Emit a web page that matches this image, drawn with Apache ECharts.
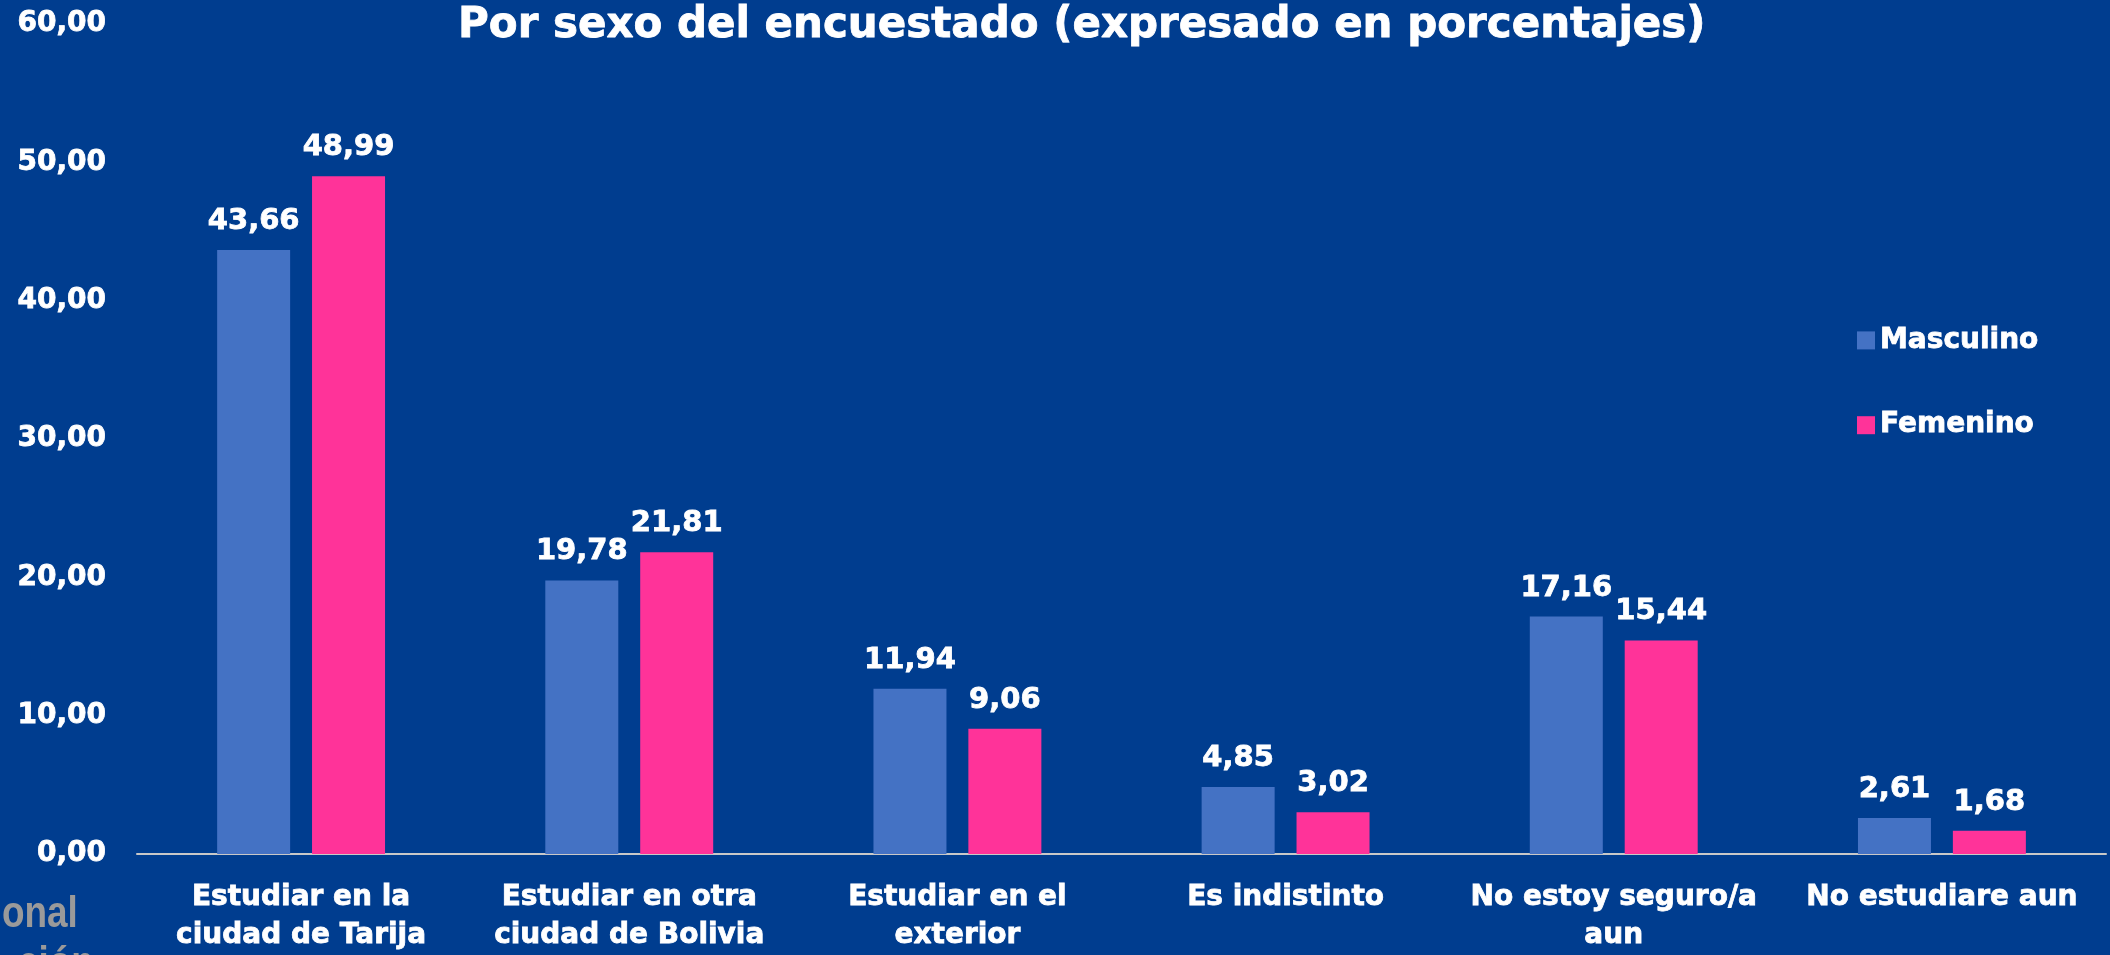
<!DOCTYPE html>
<html>
<head>
<meta charset="utf-8">
<script src="https://cdn.jsdelivr.net/npm/echarts@6/dist/echarts.min.js"></script>
<style>
  html, body { margin: 0; padding: 0; background: #003D8F; }
  #chart { width: 2110px; height: 955px; }
</style>
</head>
<body>
<div id="chart"></div>
<script>
const categories = [
  "Estudiar en la\nciudad de Tarija",
  "Estudiar en otra\nciudad de Bolivia",
  "Estudiar en el\nexterior",
  "Es indistinto",
  "No estoy seguro/a\naun",
  "No estudiare aun"
];
const masculino = [43.66, 19.78, 11.94, 4.85, 17.16, 2.61];
const femenino = [48.99, 21.81, 9.06, 3.02, 15.44, 1.68];
const yTicks = [0, 10, 20, 30, 40, 50, 60];

const FONT = "DejaVu Sans";
const fmt = (v) => Number(v).toFixed(2).replace(".", ",");

// white text, a hair thicker so it reads closer to the heavy original face
const boldWhite = { color: "#fff", fontWeight: "bold", fontFamily: FONT, textBorderColor: "#fff", textBorderWidth: 0.8 };

const chart = echarts.init(document.getElementById("chart"));

const option = {
  backgroundColor: "#003D8F",
  animation: false,
  textStyle: { fontFamily: FONT },
  title: {
    text: "Por sexo del encuestado (expresado en porcentajes)",
    left: 453,
    top: 0,
    textStyle: Object.assign({}, boldWhite, { fontSize: 42 })
  },
  legend: {
    orient: "vertical",
    left: 1852,
    top: 321,
    itemWidth: 18,
    itemHeight: 18,
    itemGap: 56,
    icon: "rect",
    textStyle: Object.assign({}, boldWhite, { fontSize: 28, lineHeight: 28 }),
    data: ["Masculino", "Femenino"]
  },
  grid: { left: 137, right: 4, top: 24, bottom: 99, containLabel: false },
  xAxis: {
    type: "category",
    data: categories,
    axisLine: { lineStyle: { color: "#C8C8C8", width: 2 } },
    axisTick: { show: false },
    axisLabel: Object.assign({}, boldWhite, {
      fontSize: 28, lineHeight: 38, margin: 25, interval: 0
    })
  },
  yAxis: {
    type: "value",
    min: yTicks[0],
    max: yTicks[yTicks.length - 1],
    interval: 10,
    splitLine: { show: false },
    axisLine: { show: false },
    axisTick: { show: false },
    axisLabel: Object.assign({}, boldWhite, {
      fontSize: 28, margin: 31, padding: [4, 0, 0, 0], formatter: fmt
    })
  },
  series: [
    {
      name: "Masculino",
      type: "bar",
      data: masculino,
      barWidth: 73,
      barGap: "30%",
      itemStyle: { color: "#4472C4" },
      label: Object.assign({}, boldWhite, {
        show: true, position: "top", distance: 14, fontSize: 29,
        formatter: (p) => fmt(p.value)
      })
    },
    {
      name: "Femenino",
      type: "bar",
      data: femenino,
      barWidth: 73,
      barGap: "30%",
      itemStyle: { color: "#FF3399" },
      label: Object.assign({}, boldWhite, {
        show: true, position: "top", distance: 14, fontSize: 29,
        formatter: (p) => fmt(p.value)
      })
    }
  ],
  // cut-off grey lettering from the slide, bottom-left corner
  graphic: [
    {
      type: "text",
      x: 2,
      y: 892,
      scaleX: 0.82,
      style: { text: "onal", fill: "#9A9A9A", font: "bold 45px 'Liberation Sans'" }
    },
    {
      type: "text",
      x: 18,
      y: 942,
      scaleX: 0.82,
      style: { text: "ción", fill: "#9A9A9A", font: "bold 45px 'Liberation Sans'" }
    }
  ]
};

chart.setOption(option);
</script>
</body>
</html>
